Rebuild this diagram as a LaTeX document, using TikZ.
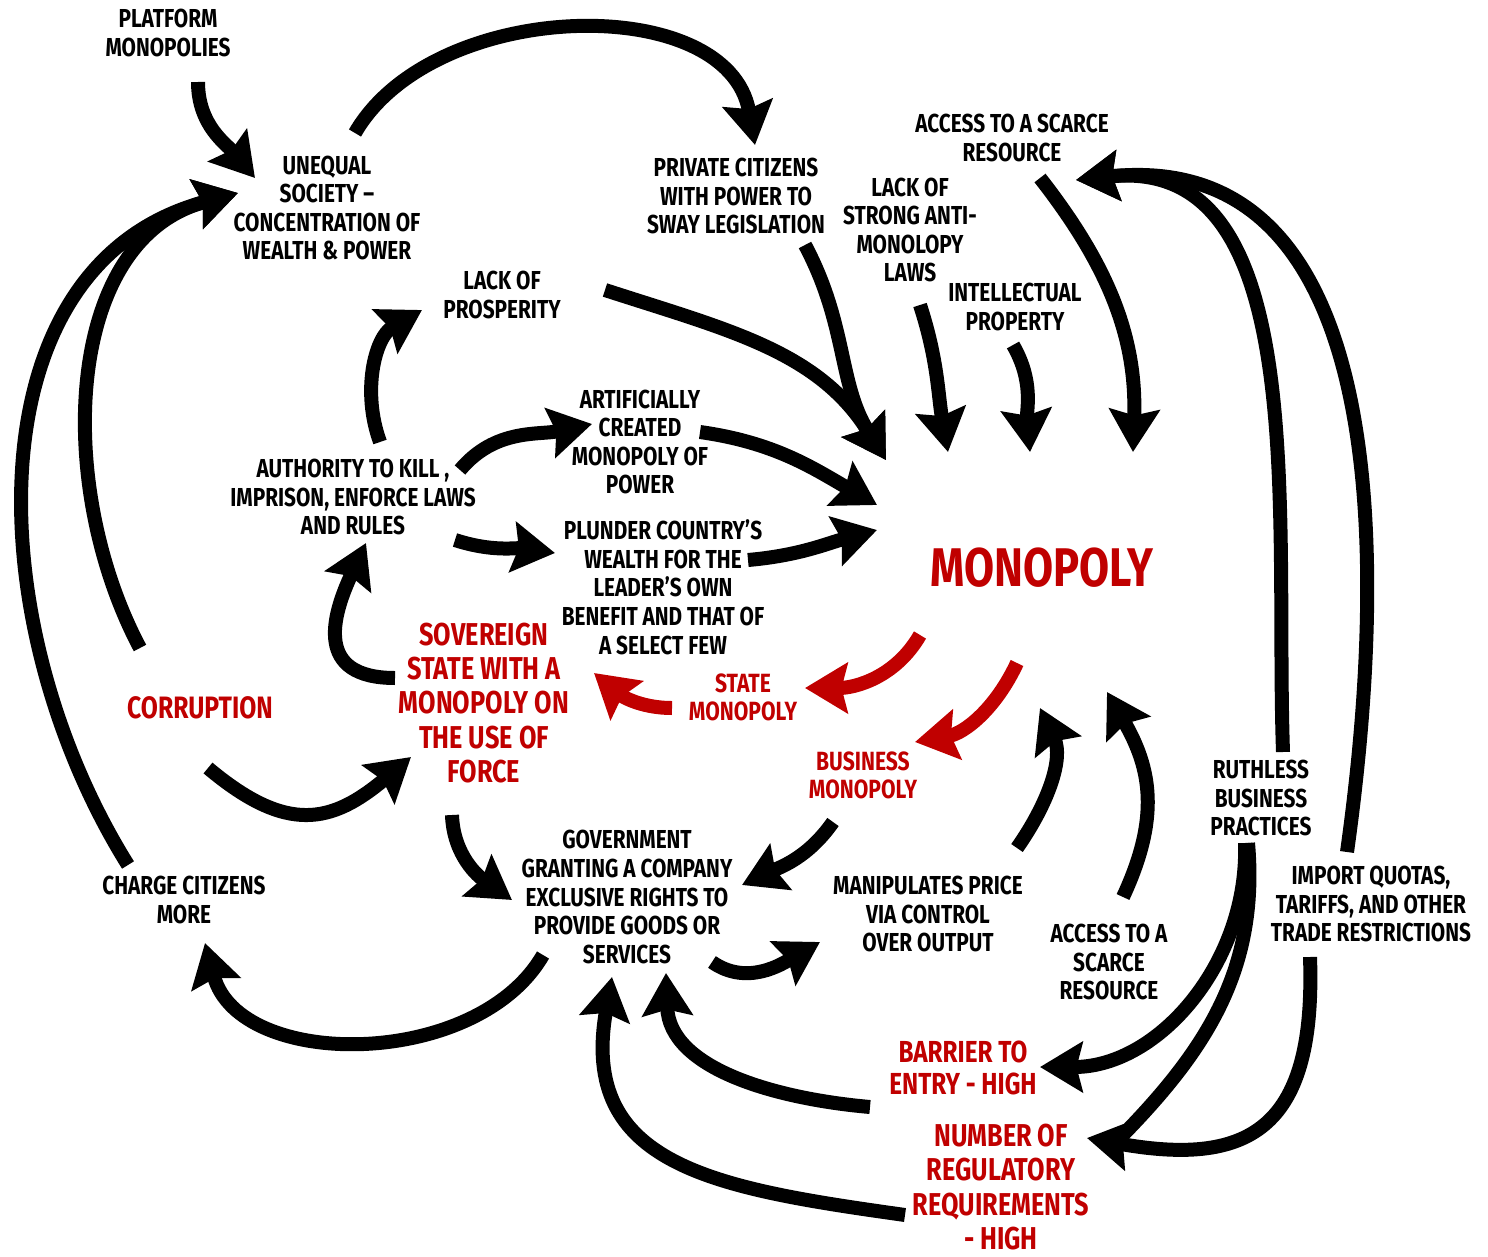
\documentclass[tikz,border=0pt]{standalone}
\usepackage{fontspec}
\setmainfont{Fira Sans}[FakeStretch=0.8]
\usetikzlibrary{arrows.meta,calc}
\definecolor{monored}{HTML}{C00000}

\begin{document}
\begin{tikzpicture}[
  x=0.02cm, y=0.02cm,
  lbl/.style={align=center, inner sep=0pt,
              font=\bfseries\fontsize{14.8}{16.3}\selectfont},
  redlbl/.style={lbl, text=monored,
              font=\bfseries\fontsize{18}{19.4}\selectfont},
  smallred/.style={lbl, text=monored,
              font=\bfseries\fontsize{15}{16}\selectfont},
  arr/.style={-{Stealth[length=0.85cm, width=1.0cm, inset=0.12cm]},
              line width=0.28cm},
  redarr/.style={arr, monored},
  link/.style={line width=0.28cm},
]
\useasboundingbox (0,0) rectangle (1488,-1257);

% ---- Causes, top ----
\node[lbl] (plat) at (168,-33) {PLATFORM\\MONOPOLIES};
\node[lbl] (uneq) at (327,-208) {UNEQUAL\\SOCIETY –\\CONCENTRATION OF\\WEALTH \& POWER};
\node[lbl] (priv) at (736,-196) {PRIVATE CITIZENS\\WITH POWER TO\\SWAY LEGISLATION};
\node[lbl] (acctop) at (1012,-138) {ACCESS TO A SCARCE\\RESOURCE};
\node[lbl] (antil) at (910,-230) {LACK OF\\STRONG ANTI-\\MONOLOPY\\LAWS};
\node[lbl] (intel) at (1015,-307) {INTELLECTUAL\\PROPERTY};
\node[lbl] (lackp) at (502,-295) {LACK OF\\PROSPERITY};

% ---- State side ----
\node[lbl] (artif) at (640,-442) {ARTIFICIALLY\\CREATED\\MONOPOLY OF\\POWER};
\node[lbl] (auth) at (353,-497) {AUTHORITY TO KILL ,\\IMPRISON, ENFORCE LAWS\\AND RULES};
\node[lbl] (plund) at (663,-587) {PLUNDER COUNTRY’S\\WEALTH FOR THE\\LEADER’S OWN\\BENEFIT AND THAT OF\\A SELECT FEW};
\node[lbl, text=monored, font=\bfseries\fontsize{31}{33}\selectfont] (mono) at (1042,-568) {MONOPOLY};
\node[redlbl, font=\bfseries\fontsize{17.6}{19}\selectfont] (corr) at (200,-708) {CORRUPTION};
\node[redlbl] (sov) at (484,-703) {SOVEREIGN\\STATE WITH A\\MONOPOLY ON\\THE USE OF\\FORCE};
\node[smallred] (statem) at (743,-697) {STATE\\MONOPOLY};
\node[smallred] (busm) at (863,-775) {BUSINESS\\MONOPOLY};

% ---- Business side ----
\node[lbl] (gov) at (627,-897) {GOVERNMENT\\GRANTING A COMPANY\\EXCLUSIVE RIGHTS TO\\PROVIDE GOODS OR\\SERVICES};
\node[lbl] (charge) at (184,-900) {CHARGE CITIZENS\\MORE};
\node[lbl] (manip) at (928,-914) {MANIPULATES PRICE\\VIA CONTROL\\OVER OUTPUT};
\node[lbl] (accbot) at (1109,-962) {ACCESS TO A\\SCARCE\\RESOURCE};
\node[lbl] (ruth) at (1261,-798) {RUTHLESS\\BUSINESS\\PRACTICES};
\node[lbl] (impq) at (1371,-904) {IMPORT QUOTAS,\\TARIFFS, AND OTHER\\TRADE RESTRICTIONS};
\node[redlbl, font=\bfseries\fontsize{17.3}{18.7}\selectfont] (barr) at (963,-1068) {BARRIER TO\\ENTRY - HIGH};
\node[redlbl] (numreg) at (1001,-1187) {NUMBER OF\\REGULATORY\\REQUIREMENTS\\- HIGH};

% ---- Into unequal society ----
\draw[arr] ($(plat)+(30,-49)$) to[out=-90, in=130] ($(uneq)+(-72,30)$);
\draw[arr] ($(charge)+(-56,35)$) to[out=122, in=-165, looseness=1.05] ($(uneq)+(-89,15)$);
\draw[arr] ($(corr)+(-60,60)$) to[out=118, in=-165] ($(uneq)+(-89,15)$);
\draw[arr] ($(uneq)+(28,75)$) to[out=60, in=100] ($(priv)+(19,51)$);
\draw[arr] ($(auth)+(27,55)$) to[out=110, in=-150] ($(lackp)+(-80,-15)$);

% ---- Into monopoly ----
\draw[arr] ($(priv)+(69,-49)$) to[out=-62, in=122] ($(mono)+(-156,108)$);
\draw[arr] ($(lackp)+(103,5)$) to[out=-18, in=122] ($(mono)+(-156,108)$);
\draw[arr] ($(antil)+(10,-75)$) to[out=-72, in=100] ($(mono)+(-94,116)$);
\draw[arr] ($(intel)+(-2,-38)$) to[out=-60, in=95] ($(mono)+(-12,116)$);
\draw[arr] ($(acctop)+(28,-40)$) to[out=-52, in=88] ($(mono)+(91,116)$);
\draw[arr] ($(artif)+(60,10)$) to[out=-8, in=150] ($(mono)+(-165,63)$);
\draw[arr] ($(plund)+(85,27)$) to[out=5, in=-165] ($(mono)+(-165,38)$);
\draw[arr] ($(auth)+(107,27)$) to[out=50, in=-168] ($(artif)+(-48,18)$);
\draw[arr] ($(auth)+(102,-43)$) to[out=-18, in=172] ($(plund)+(-108,34)$);
\draw[arr] ($(manip)+(89,66)$) to[out=55, in=-65] ($(mono)+(-2,-140)$);
\draw[arr] ($(accbot)+(14,65)$) to[out=65, in=-60, looseness=1.1] ($(mono)+(65,-124)$);

% ---- Out of monopoly ----
\draw[redarr] ($(mono)+(-122,-67)$) to[out=-120, in=0] ($(statem)+(62,9)$);
\draw[redarr] ($(mono)+(-25,-95)$) to[out=-115, in=10] ($(busm)+(52,33)$);
\draw[redarr] ($(statem)+(-71,-11)$) to[out=180, in=-40] ($(sov)+(110,30)$);

% ---- Sovereign state ----
\draw[arr] ($(sov)+(-89,25)$) to[out=180, in=-115, looseness=1.5] ($(auth)+(13,-46)$);
\draw[arr] ($(corr)+(8,-60)$) to[out=-40, in=-140, looseness=1.3] ($(sov)+(-73,-54)$);
\draw[arr] ($(sov)+(-32,-112)$) to[out=-88, in=145] ($(gov)+(-115,-3)$);

% ---- Government and business ----
\draw[arr] ($(gov)+(-84,-58)$) to[out=-120, in=-75] ($(charge)+(21,-43)$);
\draw[arr] ($(busm)+(-30,-47)$) to[out=-125, in=25] ($(gov)+(115,12)$);
\draw[arr] ($(gov)+(85,-65)$) to[out=-35, in=-150] ($(manip)+(-108,-28)$);
\draw[arr] ($(barr)+(-93,-39)$) to[out=175, in=-88] ($(gov)+(39,-76)$);
\draw[arr] ($(numreg)+(-96,-28)$) to[out=172, in=-100, looseness=1.3] ($(gov)+(-15,-80)$);

% ---- Right side ----
\draw[arr] ($(ruth)+(22,46)$) to[out=92, in=6] ($(acctop)+(64,-42)$);
\draw[arr] ($(impq)+(-24,52)$) to[out=82, in=6, looseness=1.1] ($(acctop)+(64,-42)$);
\draw[arr] ($(ruth)+(-16,-45)$) to[out=-88, in=0] ($(barr)+(77,1)$);
\draw[link] ($(ruth)+(-13,-45)$) to[out=-85, in=45] ($(numreg)+(111,41)$);
\draw[arr] ($(impq)+(-61,-53)$) to[out=-88, in=-10, looseness=1.5] ($(numreg)+(86,49)$);

\end{tikzpicture}
\end{document}
